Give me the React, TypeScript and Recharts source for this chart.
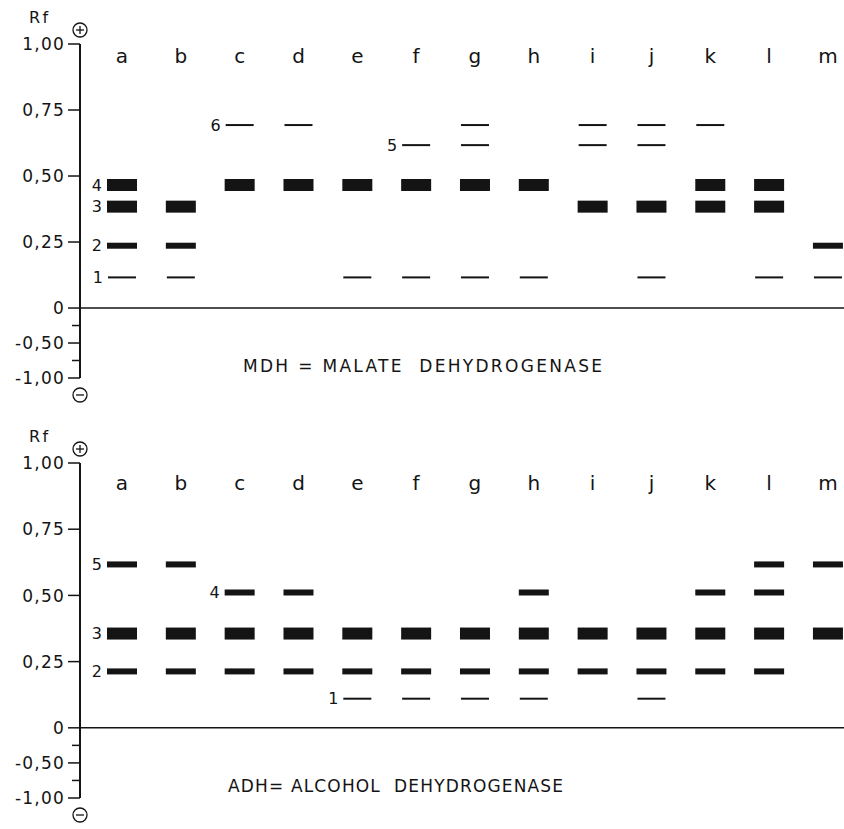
import React from "react";
import { ScatterChart, Scatter, XAxis, YAxis, ReferenceLine } from "recharts";

// lanes a..m (populations), shared by both gels
const lanes = ["a", "b", "c", "d", "e", "f", "g", "h", "i", "j", "k", "l", "m"];

// Rf axis ticks; the unlabelled ones are the minor ticks below zero
const yTicks = [1, 0.75, 0.5, 0.25, 0, -0.25, -0.5, -0.75, -1];
const yTickLabels = ["1,00", "0,75", "0,50", "0,25", "0", "", "-0,50", "", "-1,00"];

// MDH = malate dehydrogenase
const mdhBands = ["1", "2", "3", "4", "5", "6"];
const mdhRf = [0.116, 0.236, 0.384, 0.466, 0.617, 0.693];
const mdhStrength = ["weak", "medium", "strong", "strong", "weak", "weak"];
const mdhLanes = [
  ["a", "b", "e", "f", "g", "h", "j", "l", "m"],
  ["a", "b", "m"],
  ["a", "b", "i", "j", "k", "l"],
  ["a", "c", "d", "e", "f", "g", "h", "k", "l"],
  ["f", "g", "i", "j"],
  ["c", "d", "g", "i", "j", "k"],
];
const mdhLabelLane = ["a", "a", "a", "a", "f", "c"];

// ADH = alcohol dehydrogenase
const adhBands = ["1", "2", "3", "4", "5"];
const adhRf = [0.11, 0.213, 0.356, 0.511, 0.617];
const adhStrength = ["weak", "medium", "strong", "medium", "medium"];
const adhLanes = [
  ["e", "f", "g", "h", "j"],
  ["a", "b", "c", "d", "e", "f", "g", "h", "i", "j", "k", "l"],
  ["a", "b", "c", "d", "e", "f", "g", "h", "i", "j", "k", "l", "m"],
  ["c", "d", "h", "k", "l"],
  ["a", "b", "l", "m"],
];
const adhLabelLane = ["e", "a", "a", "c", "a"];

const INK = "#141414";
const FONT = "'DejaVu Sans', sans-serif";

// the negative half of the Rf axis is drawn compressed in the original figure
const NEG = 0.265;
const toAxis = (rf: number) => (rf < 0 ? rf * NEG : rf);

type Band = { x: number; y: number; strength: string; label: string };

function buildBands(
  bands: string[],
  rf: number[],
  strength: string[],
  laneSets: string[][],
  labelLane: string[]
): Band[] {
  const out: Band[] = [];
  bands.forEach((b, i) => {
    laneSets[i].forEach((lane) => {
      out.push({
        x: lanes.indexOf(lane),
        y: toAxis(rf[i]),
        strength: strength[i],
        label: labelLane[i] === lane ? b : "",
      });
    });
  });
  return out;
}

const mdhData = buildBands(mdhBands, mdhRf, mdhStrength, mdhLanes, mdhLabelLane);
const adhData = buildBands(adhBands, adhRf, adhStrength, adhLanes, adhLabelLane);

const BAND_SIZE: Record<string, [number, number]> = {
  strong: [30, 12],
  medium: [30, 6],
  weak: [28, 2],
};

function BandShape(props: any) {
  const { cx, cy, payload } = props;
  const [w, h] = BAND_SIZE[payload.strength];
  return (
    <g>
      <rect x={cx - w / 2} y={cy - h / 2} width={w} height={h} fill={INK} />
      {payload.label && (
        <text x={cx - w / 2 - 5} y={cy} dy="0.36em" textAnchor="end" fontSize={16} fontFamily={FONT} fill={INK}>
          {payload.label}
        </text>
      )}
    </g>
  );
}

function RfTick(props: any) {
  const { x, y, index } = props;
  const label = yTickLabels[index];
  const len = label ? 12 : 8;
  return (
    <g>
      <line x1={x - len} x2={x} y1={y} y2={y} stroke={INK} strokeWidth={1.5} />
      {label && (
        <text x={x - 15} y={y} dy="0.36em" textAnchor="end" fontSize={17} letterSpacing={1.2} fontFamily={FONT} fill={INK}>
          {label}
        </text>
      )}
    </g>
  );
}

// "Rf" caption and the +/- electrode signs at both ends of the axis
function AxisDecor(props: any) {
  const vb = props.viewBox || { x: 0, y: 0, width: 0, height: 0 };
  const ax = vb.x + vb.width;
  const top = vb.y - 14;
  const bot = vb.y + vb.height + 17;
  return (
    <g stroke={INK} strokeWidth={1.3} fill="none">
      <text x={vb.x + 29} y={vb.y - 21} fontSize={16} letterSpacing={2.5} fontFamily={FONT} fill={INK} stroke="none">
        Rf
      </text>
      <circle cx={ax} cy={top} r={7} />
      <line x1={ax - 4} x2={ax + 4} y1={top} y2={top} />
      <line x1={ax} x2={ax} y1={top - 4} y2={top + 4} />
      <circle cx={ax} cy={bot} r={7} />
      <line x1={ax - 4} x2={ax + 4} y1={bot} y2={bot} />
    </g>
  );
}

type PanelProps = {
  data: Band[];
  height: number;
  margin: { top: number; right: number; bottom: number; left: number };
  letterDy: number;
  title: string;
  titleX: number;
  titleY: number;
  titleLen: number;
};

function LaneTick(props: any) {
  const { x, y, payload, letterDy } = props;
  return (
    <text x={x} y={y + letterDy} textAnchor="middle" fontSize={20} fontFamily={FONT} fill={INK}>
      {lanes[payload.value]}
    </text>
  );
}

function GelPanel({ data, height, margin, letterDy, title, titleX, titleY, titleLen }: PanelProps) {
  return (
    <div style={{ position: "relative", width: 844, height }}>
      <ScatterChart width={844} height={height} margin={margin}>
        <XAxis
          type="number"
          dataKey="x"
          orientation="top"
          height={20}
          domain={[-0.714, 12.273]}
          ticks={lanes.map((_, i) => i)}
          interval={0}
          allowDataOverflow
          axisLine={false}
          tickLine={false}
          tickSize={0}
          tickMargin={0}
          tick={<LaneTick letterDy={letterDy} />}
        />
        <YAxis
          type="number"
          dataKey="y"
          width={80}
          domain={[toAxis(-1), 1]}
          ticks={yTicks.map(toAxis)}
          interval={0}
          allowDataOverflow
          axisLine={{ stroke: INK, strokeWidth: 2 }}
          tickLine={false}
          tickSize={0}
          tickMargin={0}
          tick={RfTick}
          label={{ content: (p: any) => <AxisDecor {...p} /> }}
        />
        <ReferenceLine y={0} stroke={INK} strokeWidth={1.6} />
        <Scatter data={data} shape={BandShape} isAnimationActive={false} />
      </ScatterChart>
      <svg width={844} height={height} style={{ position: "absolute", left: 0, top: 0, pointerEvents: "none" }}>
        <text
          x={titleX}
          y={titleY}
          fontSize={17}
          fontFamily={FONT}
          fill={INK}
          textLength={titleLen}
          lengthAdjust="spacing"
          style={{ whiteSpace: "pre" }}
        >
          {title}
        </text>
      </svg>
    </div>
  );
}

export default function App() {
  return (
    <div style={{ position: "absolute", left: 0, top: 0, width: 844, height: 829, background: "#fff" }}>
      <GelPanel
        data={mdhData}
        height={415}
        margin={{ top: 24, right: 0, bottom: 37, left: 0 }}
        letterDy={19}
        title="MDH = MALATE  DEHYDROGENASE"
        titleX={243}
        titleY={372}
        titleLen={359}
      />
      <GelPanel
        data={adhData}
        height={414}
        margin={{ top: 28, right: 0, bottom: 31, left: 0 }}
        letterDy={27}
        title="ADH= ALCOHOL  DEHYDROGENASE"
        titleX={228}
        titleY={377}
        titleLen={335}
      />
    </div>
  );
}
